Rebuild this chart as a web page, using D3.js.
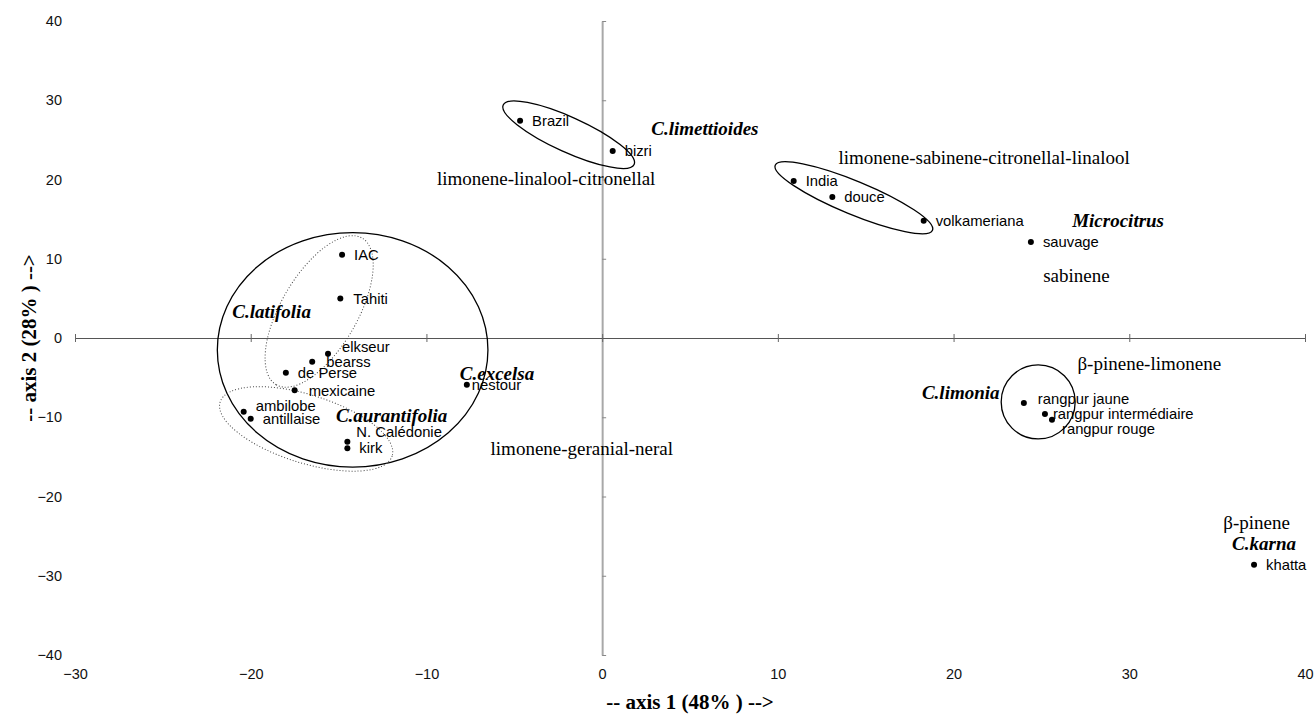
<!DOCTYPE html>
<html>
<head>
<meta charset="utf-8">
<script src="https://cdn.jsdelivr.net/npm/d3@7"></script>
<style>
  html, body { margin: 0; padding: 0; background: #fff; }
  svg { display: block; }
</style>
</head>
<body>
<svg id="chart" width="1314" height="717"></svg>
<script>
// ---------- data ----------
const cultivars = ["Brazil","bizri","India","douce","volkameriana","sauvage","IAC","Tahiti","elkseur","bearss","de Perse","mexicaine","ambilobe","antillaise","N. Calédonie","kirk","nestour","rangpur jaune","rangpur intermédiaire","rangpur rouge","khatta"];
const axis1Scores = [-4.67, 0.6, 10.9, 13.1, 18.3, 24.4, -14.8, -14.9, -15.6, -16.5, -18.0, -17.5, -20.4, -20.0, -14.5, -14.5, -7.7, 24.0, 25.2, 25.6, 37.1];
const axis2Scores = [27.4, 23.6, 19.8, 17.8, 14.8, 12.1, 10.5, 5.0, -2.0, -3.0, -4.4, -6.6, -9.3, -10.2, -13.1, -13.9, -5.9, -8.2, -9.6, -10.3, -28.6];

const speciesNames = ["C.limettioides","Microcitrus","C.latifolia","C.excelsa","C.aurantifolia","C.limonia","C.karna"];
const speciesAxis1 = [2.8, 26.75, -21.05, -8.1, -15.15, 18.2, 35.85];
const speciesAxis2 = [26.5, 14.9, 3.4, -4.4, -9.8, -6.9, -25.9];

const chemotypes = ["limonene-linalool-citronellal","limonene-sabinene-citronellal-linalool","sabinene","β-pinene-limonene","limonene-geranial-neral","β-pinene"];
const chemoAxis1 = [-9.4, 13.45, 25.1, 27.05, -6.35, 35.35];
const chemoAxis2 = [20.2, 22.8, 7.9, -3.15, -13.9, -23.3];

const xTicks = [-30, -20, -10, 0, 10, 20, 30, 40];
const yTicks = [40, 30, 20, 10, 0, -10, -20, -30, -40];

// group envelopes: major-axis end points (axis units) and half-width (axis-2 units)
const groupNames = ["limettioides","india","aurantifolia-latifolia","latifolia","aurantifolia","limonia"];
const groupX1 = [-5.63, 9.85, -21.9, -13.66, -21.74, 22.71];
const groupY1 = [29.4, 21.8, -1.5, 12.6, -8.07, -8.07];
const groupX2 = [1.82, 18.8, -6.5, -18.55, -11.95, 26.92];
const groupY2 = [21.9, 13.6, -1.5, -5.9, -14.88, -8.07];
const groupHalfWidth = [2.2, 2.1, 14.8, 4.8, 4.3, 4.67];
const groupDotted = [false, false, false, true, true, false];

// ---------- layout ----------
const labelOffsets = {
  "Brazil":[12,0], "bizri":[12,0], "India":[12,0], "douce":[12,0], "volkameriana":[12,0],
  "sauvage":[12,0], "IAC":[12,0], "Tahiti":[13,0], "elkseur":[14,-7], "bearss":[14,0],
  "de Perse":[12,0], "mexicaine":[14,0], "ambilobe":[12,-6], "antillaise":[12,0],
  "N. Calédonie":[9,-10], "kirk":[12,0], "nestour":[5,0], "rangpur jaune":[14,-4],
  "rangpur intermédiaire":[8,0], "rangpur rouge":[10,9], "khatta":[12,0]
};

const svg = d3.select("#chart");
const x = d3.scaleLinear().domain([-30, 40]).range([75, 1305]);
const y = d3.scaleLinear().domain([-40, 40]).range([655, 21]);
const serif = "'Times New Roman', 'Liberation Serif', serif";
const sans = "Arial, 'Liberation Sans', sans-serif";

// vertical axis line at x=0
const vAxis = svg.append("g")
  .attr("transform", `translate(${x(0)},0)`)
  .call(d3.axisRight(y).tickValues(yTicks).tickSize(4).tickFormat("").tickSizeOuter(0));
vAxis.select(".domain").attr("stroke", "#a8a8a8").attr("stroke-width", 2);
vAxis.selectAll(".tick line").attr("stroke", "#888");

// horizontal axis line at y=0
const hAxis = svg.append("g")
  .attr("transform", `translate(0,${y(0)})`)
  .call(d3.axisBottom(x).tickValues(xTicks).tickSize(4).tickFormat("").tickSizeOuter(0));
hAxis.select(".domain").attr("stroke", "#555").attr("stroke-width", 1.2);
hAxis.selectAll(".tick line").attr("y1", -4).attr("y2", 4).attr("stroke", "#666");

// tick labels
const yLab = svg.append("g")
  .attr("transform", `translate(64,0)`)
  .call(d3.axisLeft(y).tickValues(yTicks).tickSize(0).tickPadding(2));
yLab.select(".domain").remove();
yLab.selectAll("text").attr("font-family", sans).attr("font-size", 14.5).attr("fill", "#111");

const xLab = svg.append("g")
  .attr("transform", `translate(0,669)`)
  .call(d3.axisBottom(x).tickValues(xTicks).tickSize(0).tickPadding(0));
xLab.select(".domain").remove();
xLab.selectAll("text").attr("font-family", sans).attr("font-size", 14.5).attr("fill", "#111");

// axis titles (centred on the plotting area)
svg.append("text")
  .attr("x", (x.range()[0] + x.range()[1]) / 2).attr("y", 709)
  .attr("text-anchor", "middle")
  .attr("font-family", serif)
  .attr("font-weight", "bold").attr("font-size", 21)
  .text("-- axis 1 (48% ) -->");
svg.append("text")
  .attr("transform", `translate(36,${(y.range()[0] + y.range()[1]) / 2}) rotate(-90)`)
  .attr("text-anchor", "middle")
  .attr("font-family", serif)
  .attr("font-weight", "bold").attr("font-size", 21)
  .text("-- axis 2 (28% ) -->");

// group envelopes
const ky = y(0) - y(1);
svg.append("g").selectAll("ellipse").data(groupNames).join("ellipse")
  .each(function(d, i) {
    const px1 = x(groupX1[i]), py1 = y(groupY1[i]);
    const px2 = x(groupX2[i]), py2 = y(groupY2[i]);
    const cx = (px1 + px2) / 2, cy = (py1 + py2) / 2;
    const a = Math.hypot(px2 - px1, py2 - py1) / 2;
    const ang = Math.atan2(py2 - py1, px2 - px1) * 180 / Math.PI;
    d3.select(this)
      .attr("cx", 0).attr("cy", 0)
      .attr("rx", a).attr("ry", groupHalfWidth[i] * ky)
      .attr("transform", `translate(${cx},${cy}) rotate(${ang})`)
      .attr("fill", "none")
      .attr("stroke", groupDotted[i] ? "#444" : "#000")
      .attr("stroke-width", groupDotted[i] ? 1 : 1.3)
      .attr("stroke-dasharray", groupDotted[i] ? "1,2" : null);
  });

// points
svg.append("g").selectAll("circle").data(cultivars).join("circle")
  .attr("cx", (d, i) => x(axis1Scores[i]))
  .attr("cy", (d, i) => y(axis2Scores[i]))
  .attr("r", 3)
  .attr("fill", "#000");

svg.append("g").selectAll("text").data(cultivars).join("text")
  .attr("x", (d, i) => x(axis1Scores[i]) + labelOffsets[d][0])
  .attr("y", (d, i) => y(axis2Scores[i]) + labelOffsets[d][1])
  .attr("dy", "0.36em")
  .attr("font-family", sans)
  .attr("font-size", 14.8)
  .attr("fill", "#000")
  .text(d => d);

// species labels
svg.append("g").selectAll("text").data(speciesNames).join("text")
  .attr("x", (d, i) => x(speciesAxis1[i]))
  .attr("y", (d, i) => y(speciesAxis2[i]))
  .attr("dy", "0.35em")
  .attr("font-family", serif)
  .attr("font-weight", "bold").attr("font-style", "italic")
  .attr("font-size", 19)
  .text(d => d);

// chemotype labels
svg.append("g").selectAll("text").data(chemotypes).join("text")
  .attr("x", (d, i) => x(chemoAxis1[i]))
  .attr("y", (d, i) => y(chemoAxis2[i]))
  .attr("dy", "0.35em")
  .attr("font-family", serif)
  .attr("font-size", 19)
  .text(d => d);
</script>
</body>
</html>
